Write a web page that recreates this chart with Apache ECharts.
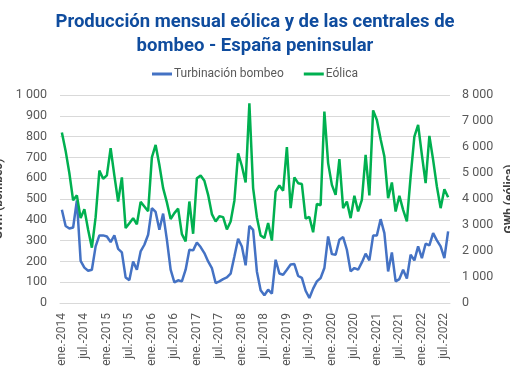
<!DOCTYPE html>
<html>
<head>
<meta charset="utf-8">
<script src="https://cdn.jsdelivr.net/npm/echarts@6/dist/echarts.min.js"></script>
<style>
html,body{margin:0;padding:0;background:#fff;}
#c{width:510px;height:382px;}
</style>
</head>
<body>
<div id="c"></div>
<script>
const monthNames = ['ene.','feb.','mar.','abr.','may.','jun.','jul.','ago.','sept.','oct.','nov.','dic.'];
const years = [2014,2015,2016,2017,2018,2019,2020,2021,2022];
const categories = [];
years.forEach(y => monthNames.forEach(m => categories.push(m + '-' + y)));
categories.length = 104; // ene.-2014 .. ago.-2022

const bombeo = [
 448,370,358,363,493,203,170,155,160,272,325,325,
 320,293,325,260,243,123,110,200,160,248,280,328,
 456,438,352,430,305,160,99,109,104,160,256,253,
 291,269,240,200,168,96,104,115,123,141,224,309,
 272,181,371,352,152,61,37,64,45,208,142,136,
 160,185,187,130,121,59,24,69,104,120,168,320,
 235,232,304,317,256,152,168,160,195,237,205,324,
 325,403,336,152,243,104,115,160,118,232,205,272,
 216,285,277,336,301,272,216,344
];
const eolica = [
 6554,5850,4990,3950,4140,3264,3610,2816,2130,3300,5094,4780,
 4910,5952,4900,3904,4830,2880,3072,3264,3030,3890,3712,3530,
 5600,6080,5310,4416,3870,3232,3456,3630,2650,2368,3904,2662,
 4800,4900,4700,4160,3420,3136,3340,3302,2830,3136,3936,5760,
 5270,4634,7680,4420,3300,2600,2496,3072,2400,4288,4520,4320,
 6000,3648,4830,4608,4576,3245,3310,2720,3808,3760,7360,5380,
 4544,4160,5530,3648,3904,3264,4122,3520,3968,5696,4140,7410,
 7040,6298,5632,4032,4634,3520,4122,3584,3136,4864,6400,6848,
 5696,4608,6426,5504,4480,3648,4378,4070
];

const fmt = v => String(v).replace(/\B(?=(\d{3})+(?!\d))/g, ' ');
const chart = echarts.init(document.getElementById('c'));
chart.setOption({
  animation:false,
  title:{
    text:'Producción mensual eólica y de las centrales de\nbombeo - España peninsular',
    left:'center', top:5,
    textStyle:{color:'#0f4c9e', fontFamily:'Roboto', fontWeight:'bold', fontSize:18.5, lineHeight:24}
  },
  legend:{
    top:63, left:'center', itemWidth:20, itemHeight:3, itemGap:20,
    icon:'rect',
    textStyle:{color:'#595959', fontFamily:'Roboto', fontSize:12, padding:[0,0,0,-3]},
    data:['Turbinación bombeo','Eólica']
  },
  grid:{left:60, right:60, top:95, bottom:79, outerBoundsMode:'none', containLabel:false},
  xAxis:{
    type:'category', data:categories, boundaryGap:true,
    axisLine:{lineStyle:{color:'#d9d9d9'}},
    axisTick:{show:false},
    axisLabel:{interval:5, rotate:90, color:'#595959', fontFamily:'Roboto', fontSize:12, margin:10}
  },
  yAxis:[{
    type:'value', min:0, max:1000, interval:100,
    name:'GWh (bombeo)', nameLocation:'middle', nameGap:53, nameRotate:90,
    nameTextStyle:{color:'#404040', fontFamily:'Roboto', fontWeight:'bold', fontSize:12},
    axisLabel:{color:'#595959', fontFamily:'Roboto', fontSize:12.5, formatter:fmt, margin:13},
    splitLine:{lineStyle:{color:'#d9d9d9'}},
    axisLine:{show:false}, axisTick:{show:false}
  },{
    type:'value', min:0, max:8000, interval:1000, position:'right',
    name:'GWh (eólica)', nameLocation:'middle', nameGap:53, nameRotate:90,
    nameTextStyle:{color:'#404040', fontFamily:'Roboto', fontWeight:'bold', fontSize:12},
    axisLabel:{color:'#595959', fontFamily:'Roboto', fontSize:12.5, formatter:fmt, margin:12},
    splitLine:{show:false},
    axisLine:{show:false}, axisTick:{show:false}
  }],
  series:[{
    name:'Turbinación bombeo', type:'line', data:bombeo, yAxisIndex:0,
    showSymbol:false, symbol:'none', color:'#4472c4',
    lineStyle:{width:2.5, color:'#4472c4'}
  },{
    name:'Eólica', type:'line', data:eolica, yAxisIndex:1,
    showSymbol:false, symbol:'none', color:'#00b050',
    lineStyle:{width:2.5, color:'#00b050'}
  }]
});
</script>
</body>
</html>
